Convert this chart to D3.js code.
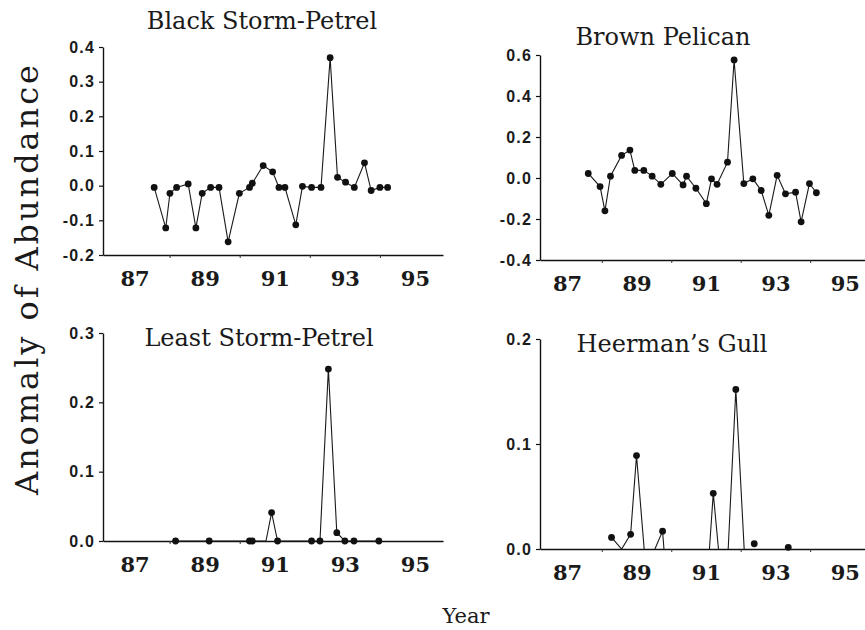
<!DOCTYPE html>
<html><head><meta charset="utf-8">
<script src="https://cdn.jsdelivr.net/npm/d3@7/dist/d3.min.js"></script>
<style>
html,body{margin:0;padding:0;background:#fff;}
svg{display:block;}
</style>
</head><body>
<svg id="chart" width="865" height="630"></svg>
<script>
// ---- data ----
const xLabelYears = [87, 89, 91, 93, 95];
const xMinorYears = [88, 90, 92, 94];

const bspYears = [87.56, 87.89, 88.01, 88.20, 88.53, 88.75, 88.93, 89.17, 89.41, 89.67, 89.99, 90.28, 90.36, 90.67, 90.94, 91.12, 91.29, 91.60, 91.79, 92.05, 92.32, 92.58, 92.79, 93.02, 93.27, 93.56, 93.75, 94.00, 94.22];
const bspValues = [-0.005, -0.122, -0.022, -0.005, 0.005, -0.122, -0.022, -0.005, -0.005, -0.162, -0.022, -0.005, 0.007, 0.058, 0.040, -0.005, -0.005, -0.113, -0.002, -0.005, -0.005, 0.369, 0.024, 0.010, -0.005, 0.066, -0.014, -0.005, -0.005];
const bspTicks = [-0.2, -0.1, 0.0, 0.1, 0.2, 0.3, 0.4];

const bpYears = [87.61, 87.95, 88.09, 88.25, 88.57, 88.81, 88.95, 89.21, 89.45, 89.70, 90.03, 90.34, 90.44, 90.71, 91.01, 91.16, 91.32, 91.62, 91.81, 92.09, 92.35, 92.59, 92.81, 93.05, 93.29, 93.58, 93.74, 93.98, 94.18];
const bpValues = [0.022, -0.042, -0.160, 0.009, 0.110, 0.136, 0.037, 0.037, 0.009, -0.031, 0.022, -0.034, 0.009, -0.050, -0.125, -0.004, -0.031, 0.077, 0.576, -0.027, -0.004, -0.061, -0.182, 0.013, -0.077, -0.069, -0.214, -0.027, -0.072];
const bpTicks = [-0.4, -0.2, 0.0, 0.2, 0.4, 0.6];

const lspYears = [88.17, 89.13, 90.28, 90.36, 90.75, 90.91, 91.08, 92.05, 92.29, 92.53, 92.77, 93.00, 93.26, 93.97];
const lspValues = [0, 0, 0, 0, 0, 0.041, 0, 0, 0, 0.248, 0.012, 0, 0, 0];
const lspMarked = [1, 1, 1, 1, 0, 1, 1, 1, 1, 1, 1, 1, 1, 1];
const lspTicks = [0.0, 0.1, 0.2, 0.3];

const hgYears = [88.28, 88.57, 88.83, 89.00, 89.22, 89.38, 89.53, 89.75, 89.79, 90.40, 91.10, 91.21, 91.36, 91.50, 91.64, 91.86, 92.10, 92.25, 92.39, 92.90, 93.37];
const hgValues = [0.011, 0, 0.014, 0.089, 0, null, 0, 0.017, 0, null, 0, 0.053, 0, null, 0, 0.152, 0, null, 0.005, null, 0.0016];
const hgMarked = [1, 0, 1, 1, 0, 0, 0, 1, 0, 0, 0, 1, 0, 0, 0, 1, 0, 0, 1, 0, 1];
const hgTicks = [0.0, 0.1, 0.2];

const titles = ["Black Storm-Petrel", "Brown Pelican", "Least Storm-Petrel", "Heerman\u2019s Gull"];
const yAxisTitle = "Anomaly of Abundance";
const xAxisTitle = "Year";

// ---- layout ----
const svg = d3.select("#chart");
const serif = "'DejaVu Serif', serif";
const sans = "'Liberation Sans', Arial, sans-serif";

const panels = [
  {title: titles[0], years: bspYears, values: bspValues, marked: null, ticks: bspTicks,
   xDomain: [86.1, 95.8], xRange: [103, 443], yRange: [255, 47], titleX: 262, titleY: 29},
  {title: titles[1], years: bpYears, values: bpValues, marked: null, ticks: bpTicks,
   xDomain: [86.22, 95.58], xRange: [540, 865], yRange: [260, 55], titleX: 663, titleY: 45},
  {title: titles[2], years: lspYears, values: lspValues, marked: lspMarked, ticks: lspTicks,
   xDomain: [86.1, 95.8], xRange: [103, 443], yRange: [541, 333], titleX: 259, titleY: 346},
  {title: titles[3], years: hgYears, values: hgValues, marked: hgMarked, ticks: hgTicks,
   xDomain: [86.22, 95.58], xRange: [540, 865], yRange: [549, 339], titleX: 672, titleY: 352}
];

panels.forEach(p => {
  const x = d3.scaleLinear().domain(p.xDomain).range(p.xRange);
  const y = d3.scaleLinear().domain([p.ticks[0], p.ticks[p.ticks.length - 1]]).range(p.yRange);
  const g = svg.append("g");
  const yBase = p.yRange[0];

  // x axis: line + minor ticks
  const xa = g.append("g").attr("transform", `translate(0,${yBase})`)
    .call(d3.axisBottom(x).tickValues(xMinorYears).tickSize(3).tickSizeOuter(0).tickFormat(""));
  xa.select(".domain").attr("stroke", "#111").attr("stroke-width", 1.6);
  xa.selectAll(".tick line").attr("stroke", "#333").attr("stroke-width", 1);

  // x labels
  const xl = g.append("g").attr("transform", `translate(0,${yBase})`)
    .call(d3.axisBottom(x).tickValues(xLabelYears).tickSize(0).tickFormat(d3.format("d")));
  xl.select(".domain").remove();
  xl.selectAll("text").attr("y", 31).attr("dy", 0)
    .attr("font-family", serif).attr("font-weight", "bold").attr("font-size", 21).attr("fill", "#1a1a1a");

  // y axis
  const ya = g.append("g").attr("transform", `translate(${p.xRange[0]},0)`)
    .call(d3.axisLeft(y).tickValues(p.ticks).tickSize(4).tickSizeOuter(0).tickPadding(4)
      .tickFormat(d => d.toFixed(1)));
  ya.select(".domain").attr("stroke", "#111").attr("stroke-width", 1.4);
  ya.selectAll(".tick line").attr("stroke", "#111").attr("stroke-width", 1.2);
  ya.selectAll("text").attr("font-family", sans).attr("font-weight", "bold")
    .attr("font-size", 16).attr("fill", "#1a1a1a").attr("letter-spacing", 1.2);

  // data
  const pts = p.years.map((yr, i) => ({yr, v: p.values[i], m: p.marked ? p.marked[i] : 1}));
  const line = d3.line().defined(d => d.v !== null).x(d => x(d.yr)).y(d => y(d.v));
  g.append("path").datum(pts).attr("d", line)
    .attr("fill", "none").attr("stroke", "#1a1a1a").attr("stroke-width", 1.1);
  g.selectAll("circle.dot").data(pts.filter(d => d.v !== null && d.m)).join("circle")
    .attr("class", "dot").attr("cx", d => x(d.yr)).attr("cy", d => y(d.v)).attr("r", 3.4)
    .attr("fill", "#111");

  // title
  g.append("text").attr("x", p.titleX).attr("y", p.titleY).attr("text-anchor", "middle")
    .attr("font-family", serif).attr("font-size", 24).attr("fill", "#1a1a1a").text(p.title);
});

svg.append("text").attr("transform", "translate(38,280) rotate(-90)").attr("text-anchor", "middle")
  .attr("font-family", serif).attr("font-size", 32).attr("fill", "#1a1a1a")
  .attr("textLength", 430).attr("lengthAdjust", "spacing").text(yAxisTitle);
svg.append("text").attr("x", 466).attr("y", 623).attr("text-anchor", "middle")
  .attr("font-family", serif).attr("font-size", 21).attr("fill", "#1a1a1a").text(xAxisTitle);
</script>
</body></html>
